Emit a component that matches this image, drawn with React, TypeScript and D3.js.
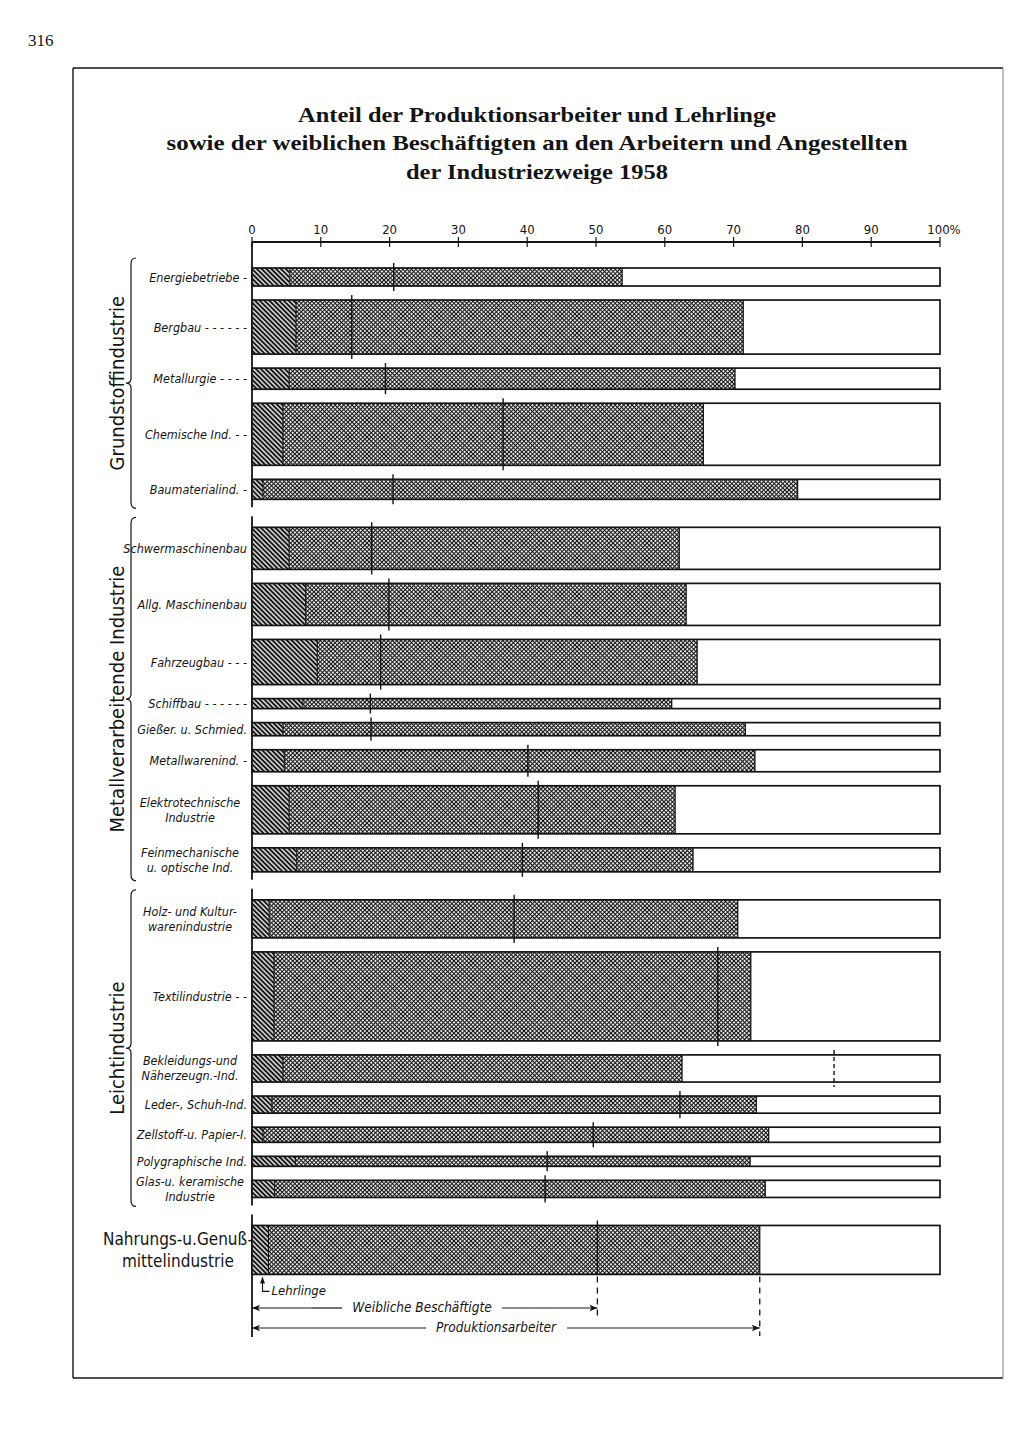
import * as d3 from "d3";

// Industriezweige (Beschriftung wie im Original, mit Füllstrichen)
const categories = [
  "Energiebetriebe -",
  "Bergbau - - - - - -",
  "Metallurgie - - - -",
  "Chemische Ind. - -",
  "Baumaterialind. -",
  "Schwermaschinenbau",
  "Allg. Maschinenbau",
  "Fahrzeugbau - - -",
  "Schiffbau - - - - - -",
  "Gießer. u. Schmied.",
  "Metallwarenind. -",
  "Elektrotechnische\nIndustrie",
  "Feinmechanische\nu. optische Ind.",
  "Holz- und Kultur-\nwarenindustrie",
  "Textilindustrie - -",
  "Bekleidungs-und\nNäherzeugn.-Ind.",
  "Leder-, Schuh-Ind.",
  "Zellstoff-u. Papier-I.",
  "Polygraphische Ind.",
  "Glas-u. keramische\nIndustrie",
  "",
];
const groupOf = [0, 0, 0, 0, 0, 1, 1, 1, 1, 1, 1, 1, 1, 2, 2, 2, 2, 2, 2, 2, 3];
const groupNames = [
  "Grundstoffindustrie",
  "Metallverarbeitende Industrie",
  "Leichtindustrie",
  "Nahrungs-u.Genuß-\nmittelindustrie",
];

// Anteile in % der Arbeiter und Angestellten
const lehrlinge = [5.5, 6.4, 5.4, 4.5, 1.6, 5.4, 7.8, 9.5, 7.4, 4.5, 4.7, 5.4, 6.5, 2.5, 3.2, 4.5, 2.9, 1.6, 6.3, 3.3, 2.4];
const produktion = [53.8, 71.4, 70.2, 65.6, 79.3, 62.1, 63.1, 64.7, 61.0, 71.7, 73.1, 61.5, 64.1, 70.6, 72.5, 62.5, 73.3, 75.1, 72.4, 74.6, 73.8];
const weibliche = [20.6, 14.5, 19.4, 36.5, 20.5, 17.4, 19.9, 18.7, 17.2, 17.3, 40.1, 41.6, 39.3, 38.1, 67.7, 84.6, 62.2, 49.6, 42.9, 42.6, 50.2];
// Beschäftigte (Tsd., geschätzt) -> Balkendicke
const beschaeftigte = [81, 243, 95, 279, 90, 189, 189, 203, 45, 59, 99, 216, 108, 171, 400, 122, 77, 68, 45, 77, 220];

const tickValues = [0, 10, 20, 30, 40, 50, 60, 70, 80, 90, 100];

const W = 1024;
const H = 1447;
const INK = "#141414";
const SANS = "'DejaVu Sans Condensed', 'Liberation Sans Narrow', 'Roboto', sans-serif";
const SERIF = "'Liberation Serif', 'DejaVu Serif', serif";

const x = d3.scaleLinear().domain([0, 100]).range([252, 940]);
const thick = d3.scaleLinear().domain([0, 400]).range([0, 89]);

const BAR_TOP = 268;
const GAP = 14;
const GROUP_GAP = 28;
const AXIS_Y = 242;

let cursor = BAR_TOP;
const rows = categories.map((name, i) => {
  if (i > 0) cursor += groupOf[i] !== groupOf[i - 1] ? GROUP_GAP : GAP;
  const y0 = cursor;
  const h = thick(beschaeftigte[i]);
  cursor += h;
  return { name, i, y0, h, g: groupOf[i] };
});

const groupExtents = groupNames.map((_, g) => {
  const rs = rows.filter((r) => r.g === g);
  return { top: rs[0].y0, bottom: rs[rs.length - 1].y0 + rs[rs.length - 1].h };
});

function bracePath(xb: number, top: number, bottom: number) {
  const mid = (top + bottom) / 2;
  return `M${xb + 5},${top} Q${xb},${top} ${xb},${top + 6} L${xb},${mid - 5} Q${xb},${mid} ${xb - 5},${mid} Q${xb},${mid} ${xb},${mid + 5} L${xb},${bottom - 6} Q${xb},${bottom} ${xb + 5},${bottom}`;
}

function Arrow({ x1, x2, y }: { x1: number; x2: number; y: number }) {
  // kleine Pfeilspitze an x2
  const dir = x2 > x1 ? 1 : -1;
  return (
    <g>
      <line x1={x1} x2={x2} y1={y} y2={y} stroke={INK} strokeWidth={1.2} />
      <path d={`M${x2},${y} L${x2 - dir * 8},${y - 3.2} L${x2 - dir * 6},${y} L${x2 - dir * 8},${y + 3.2} Z`} fill={INK} />
    </g>
  );
}

export default function App() {
  const last = rows[rows.length - 1];
  const lastBottom = last.y0 + last.h;
  const xF = x(weibliche[last.i]);
  const xP = x(produktion[last.i]);
  const xL = x(lehrlinge[last.i]);

  return (
    <svg
      width={W}
      height={H}
      viewBox={`0 0 ${W} ${H}`}
      style={{ position: "absolute", left: 0, top: 0, background: "#fff" }}
    >
      <defs>
        <pattern id="diag" patternUnits="userSpaceOnUse" width={3.4} height={3.4} patternTransform="rotate(-45)">
          <rect width={3.4} height={3.4} fill="#fff" />
          <line x1={1.7} y1={0} x2={1.7} y2={3.4} stroke={INK} strokeWidth={2.1} />
        </pattern>
        <pattern id="cross" patternUnits="userSpaceOnUse" width={3} height={3} patternTransform="rotate(45)">
          <rect width={3} height={3} fill="#fff" />
          <path d="M0,1.5 H3 M1.5,0 V3" stroke={INK} strokeWidth={1.2} />
        </pattern>
      </defs>

      <rect width={W} height={H} fill="#fff" />

      {/* Seitenzahl */}
      <text x={28} y={46} fontFamily={SERIF} fontSize={17} fill={INK}>316</text>

      {/* Rahmen */}
      <g stroke={INK} fill="none">
        <line x1={73} x2={1003} y1={68} y2={68} strokeWidth={1.4} />
        <line x1={73} x2={73} y1={68} y2={1378} strokeWidth={1.4} />
        <line x1={73} x2={1003} y1={1378} y2={1378} strokeWidth={1.4} />
        <line x1={1003} x2={1003} y1={68} y2={1378} strokeWidth={0.9} stroke="#777" />
      </g>

      {/* Titel */}
      <g fontFamily={SERIF} fontWeight="bold" fontSize={22} fill={INK} textAnchor="middle">
        <text x={537} y={122} textLength={478} lengthAdjust="spacingAndGlyphs">Anteil der Produktionsarbeiter und Lehrlinge</text>
        <text x={537} y={150} textLength={741} lengthAdjust="spacingAndGlyphs">sowie der weiblichen Beschäftigten an den Arbeitern und Angestellten</text>
        <text x={537} y={179} textLength={262} lengthAdjust="spacingAndGlyphs">der Industriezweige 1958</text>
      </g>

      {/* Achse oben */}
      <line x1={x(0)} x2={x(100)} y1={AXIS_Y} y2={AXIS_Y} stroke={INK} strokeWidth={1.8} />
      {tickValues.map((t) => (
        <g key={t}>
          <line x1={x(t)} x2={x(t)} y1={AXIS_Y - 5} y2={AXIS_Y + 5} stroke={INK} strokeWidth={1.2} />
          <text
            x={t === 100 ? x(t) + 4 : x(t)}
            y={234}
            fontFamily={SANS}
            fontSize={13}
            textAnchor="middle"
            fill={INK}
          >
            {t === 100 ? "100%" : t}
          </text>
        </g>
      ))}

      {/* senkrechte Nulllinie je Gruppe */}
      {groupExtents.map((e, g) => (
        <line
          key={g}
          x1={x(0)}
          x2={x(0)}
          y1={g === 0 ? AXIS_Y : e.top - 11}
          y2={g === 3 ? 1337 : e.bottom + 8}
          stroke={INK}
          strokeWidth={1.8}
        />
      ))}

      {/* Klammern und Gruppennamen */}
      {groupExtents.slice(0, 3).map((e, g) => {
        const top = e.top - 10;
        const bottom = e.bottom + 9;
        const mid = (top + bottom) / 2;
        return (
          <g key={g}>
            <path d={bracePath(131, top, bottom)} fill="none" stroke={INK} strokeWidth={1.2} />
            <text
              transform={`translate(124,${mid}) rotate(-90)`}
              textAnchor="middle"
              fontFamily={SANS}
              fontSize={20}
              fill={INK}
            >
              {groupNames[g]}
            </text>
          </g>
        );
      })}
      {groupNames[3].split("\n").map((line, k) => (
        <text
          key={k}
          x={178}
          y={(last.y0 + last.h / 2) - 5 + k * 22}
          textAnchor="middle"
          fontFamily={SANS}
          fontSize={17}
          fill={INK}
        >
          {line}
        </text>
      ))}

      {/* Balken */}
      {rows.map((r) => {
        const l = x(lehrlinge[r.i]);
        const p = x(produktion[r.i]);
        const f = x(weibliche[r.i]);
        const beyond = weibliche[r.i] > produktion[r.i];
        const lines = r.name ? r.name.split("\n") : [];
        const cy = r.y0 + r.h / 2;
        return (
          <g key={r.i}>
            <rect x={x(0)} y={r.y0} width={l - x(0)} height={r.h} fill="url(#diag)" />
            <rect x={l} y={r.y0} width={p - l} height={r.h} fill="url(#cross)" />
            <rect x={p} y={r.y0} width={x(100) - p} height={r.h} fill="#fff" />
            <line x1={l} x2={l} y1={r.y0} y2={r.y0 + r.h} stroke={INK} strokeWidth={1.1} />
            <line x1={p} x2={p} y1={r.y0} y2={r.y0 + r.h} stroke={INK} strokeWidth={1.3} />
            <rect x={x(0)} y={r.y0} width={x(100) - x(0)} height={r.h} fill="none" stroke={INK} strokeWidth={1.7} />
            <line
              x1={f}
              x2={f}
              y1={r.y0 - 5}
              y2={r.g === 3 ? r.y0 + r.h : r.y0 + r.h + 5}
              stroke={INK}
              strokeWidth={1.4}
              strokeDasharray={beyond ? "4,3" : undefined}
            />
            {lines.length === 1 && (
              <text x={247} y={cy + 4.5} textAnchor="end" fontFamily={SANS} fontStyle="italic" fontSize={12.5} fill={INK}>
                {lines[0]}
              </text>
            )}
            {lines.length > 1 &&
              lines.map((t, k) => (
                <text
                  key={k}
                  x={190}
                  y={cy + (k - (lines.length - 1) / 2) * 15 + 4.5}
                  textAnchor="middle"
                  fontFamily={SANS}
                  fontStyle="italic"
                  fontSize={12.5}
                  fill={INK}
                >
                  {t}
                </text>
              ))}
          </g>
        );
      })}

      {/* Legende am letzten Balken */}
      <g>
        <line x1={xF} x2={xF} y1={lastBottom + 2} y2={1316} stroke={INK} strokeWidth={1.3} strokeDasharray="6,5" />
        <line x1={xP} x2={xP} y1={lastBottom + 2} y2={1336} stroke={INK} strokeWidth={1.3} strokeDasharray="6,5" />

        {/* Lehrlinge */}
        <path d={`M${xL - 6},${lastBottom + 4} L${xL - 6},${lastBottom + 17} L${xL + 1},${lastBottom + 17}`} fill="none" stroke={INK} strokeWidth={1.1} />
        <path d={`M${xL - 6},${lastBottom + 2} L${xL - 8.5},${lastBottom + 9} L${xL - 3.5},${lastBottom + 9} Z`} fill={INK} />
        <text x={xL + 3} y={lastBottom + 21} fontFamily={SANS} fontStyle="italic" fontSize={13} fill={INK}>Lehrlinge</text>

        {/* Weibliche Beschäftigte */}
        <Arrow x1={x(0) + 60} x2={x(0)} y={1308} />
        <line x1={x(0) + 60} x2={342} y1={1308} y2={1308} stroke={INK} strokeWidth={1.2} />
        <Arrow x1={502} x2={xF} y={1308} />
        <text x={422} y={1312} textAnchor="middle" fontFamily={SANS} fontStyle="italic" fontSize={13.5} fill={INK}>
          Weibliche Beschäftigte
        </text>

        {/* Produktionsarbeiter */}
        <Arrow x1={x(0) + 60} x2={x(0)} y={1328} />
        <line x1={x(0) + 60} x2={426} y1={1328} y2={1328} stroke={INK} strokeWidth={1.2} />
        <Arrow x1={567} x2={xP} y={1328} />
        <text x={496} y={1332} textAnchor="middle" fontFamily={SANS} fontStyle="italic" fontSize={13.5} fill={INK}>
          Produktionsarbeiter
        </text>
      </g>
    </svg>
  );
}
